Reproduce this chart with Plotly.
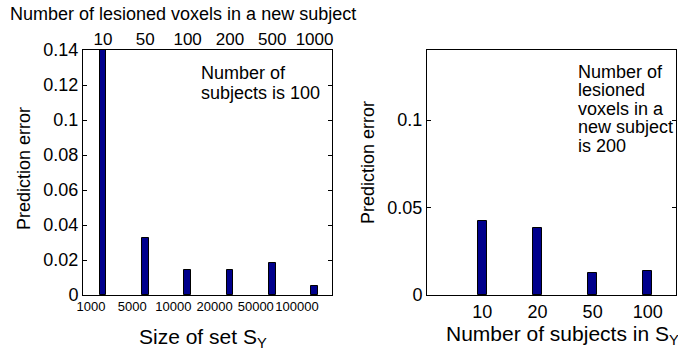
import plotly.graph_objects as go

# --- data -------------------------------------------------------------
voxel_counts = ["10", "50", "100", "200", "500", "1000"]          # top axis, left panel
set_sizes = ["1000", "5000", "10000", "20000", "50000", "100000"]  # bottom axis, left panel
error_by_voxels = [0.140, 0.0327, 0.0144, 0.0144, 0.0181, 0.0050]

subject_counts = ["10", "20", "50", "100"]                         # right panel
error_by_subjects = [0.0422, 0.0381, 0.0125, 0.0140]

left_yticks = [0, 0.02, 0.04, 0.06, 0.08, 0.1, 0.12, 0.14]
left_yticktext = ["0", "0.02", "0.04", "0.06", "0.08", "0.1", "0.12", "0.14"]
right_yticks = [0, 0.05, 0.1]
right_yticktext = ["0", "0.05", "0.1"]

# --- layout helpers -------------------------------------------------------
W, H = 678, 351
FONT = "Liberation Sans, Arial, sans-serif"
BAR_FILL = "rgb(0,0,140)"


def fx(p):
    return p / W


def fy(p):
    return 1 - p / H


fig = go.Figure()

# left panel bars (positions come from category index)
fig.add_trace(go.Bar(
    x=list(range(len(error_by_voxels))), y=error_by_voxels,
    width=0.16, marker=dict(color=BAR_FILL, line=dict(color="black", width=1)),
    xaxis="x", yaxis="y", showlegend=False, hoverinfo="skip",
))
# carrier for the bottom label axis of the left panel
fig.add_trace(go.Scatter(x=[None], y=[None], xaxis="x3", yaxis="y",
                         showlegend=False, hoverinfo="skip"))

# right panel bars
fig.add_trace(go.Bar(
    x=list(range(1, len(error_by_subjects) + 1)), y=error_by_subjects,
    width=0.16, marker=dict(color=BAR_FILL, line=dict(color="black", width=1)),
    xaxis="x2", yaxis="y2", showlegend=False, hoverinfo="skip",
))

ydom = [fy(295), fy(50)]
base = dict(showgrid=False, zeroline=False, linecolor="black", linewidth=1,
            automargin=False, tickangle=0)


def tf(size):
    return dict(family=FONT, size=size, color="black")


fig.update_layout(
    width=W, height=H, autosize=False,
    margin=dict(l=0, r=0, t=0, b=0, pad=0, autoexpand=False),
    paper_bgcolor="white", plot_bgcolor="white",
    bargap=0,
    xaxis=dict(domain=[fx(83), fx(332)], anchor="y", side="top",
               range=[-0.473, 5.412], tickmode="array",
               tickvals=list(range(len(voxel_counts))), ticktext=voxel_counts,
               showline=True, mirror=True, ticks="", tickfont=tf(17),
               ticklabelstandoff=-3, **base),
    xaxis3=dict(domain=[fx(83), fx(332)], anchor="y", overlaying="x", side="bottom",
                range=[-0.194, 5.85], tickmode="array",
                tickvals=list(range(len(set_sizes))), ticktext=set_sizes,
                showline=False, ticks="", tickfont=tf(13),
                ticklabelstandoff=2, **base),
    yaxis=dict(domain=ydom, anchor="x", range=[0, 0.14], tickmode="array",
               tickvals=left_yticks, ticktext=left_yticktext,
               showline=True, mirror="ticks", ticks="inside", ticklen=4,
               tickcolor="black", tickfont=tf(18), **base),
    xaxis2=dict(domain=[fx(427), fx(676)], anchor="y2", range=[0, 4.51],
                tickmode="array", tickvals=list(range(1, len(subject_counts) + 1)),
                ticktext=subject_counts, showline=True, mirror=True, ticks="",
                tickfont=tf(18), **base),
    yaxis2=dict(domain=ydom, anchor="x2", range=[0, 0.14], tickmode="array",
                tickvals=right_yticks, ticktext=right_yticktext,
                showline=True, mirror="ticks", ticks="inside", ticklen=4,
                tickcolor="black", tickfont=tf(18), **base),
)


def label(text, x, y, size, xanchor="left", angle=0):
    fig.add_annotation(text=text, x=fx(x), y=fy(y), xref="paper", yref="paper",
                       xanchor=xanchor, yanchor="middle", showarrow=False,
                       textangle=angle, borderpad=0,
                       font=dict(family=FONT, size=size, color="black"))


# figure heading
label("Number of lesioned voxels in a new subject", 9, 14, 18)

# axis titles
label("Prediction error", 23.5, 168.5, 18, xanchor="center", angle=-90)
label("Prediction error", 368, 163, 18, xanchor="center", angle=-90)
label("Size of set S<sub>Y</sub>", 138, 338, 21)
label("Number of subjects in S<sub>Y</sub>", 445, 335, 21)

# in-panel notes
label("Number of", 200, 72.6, 18)
label("subjects is 100", 200, 93, 18)
for i, line in enumerate(["Number of", "lesioned", "voxels in a", "new subject", "is 200"]):
    label(line, 577, 72 + 18.4 * i, 18)

fig.write_html("out.html")
